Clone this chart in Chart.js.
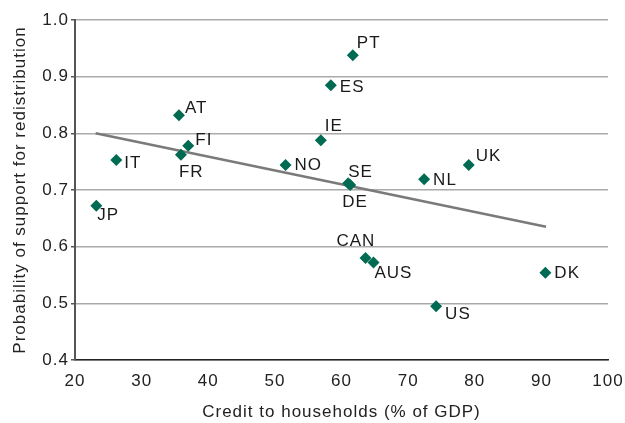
<!DOCTYPE html>
<html>
<head>
<meta charset="utf-8">
<script src="https://cdn.jsdelivr.net/npm/chart.js@4/dist/chart.umd.min.js"></script>
<style>
html,body{margin:0;padding:0;background:#fff;}
#wrap{width:625px;height:423px;position:relative;}
</style>
</head>
<body>
<div id="wrap"><canvas id="c" width="625" height="423"></canvas></div>
<script>
const countries = ["PT","ES","AT","IE","FI","FR","IT","NO","SE","DE","NL","UK","JP","CAN","AUS","DK","US"];
const credit =    [61.7, 58.4, 35.6, 56.9, 37.0, 35.9, 26.2, 51.6, 61.0, 61.3, 72.4, 79.1, 23.2, 63.6, 64.8, 90.6, 74.2];
const support =   [0.938,0.885,0.832,0.788,0.778,0.762,0.753,0.744,0.712,0.709,0.719,0.744,0.672,0.580,0.572,0.554,0.495];
const trendX = [23.1, 90.7];
const trendY = [0.800, 0.635];
const xTicks = [20,30,40,50,60,70,80,90,100];
const yTicks = [0.4,0.5,0.6,0.7,0.8,0.9,1.0];

// label offsets (px) relative to marker: [dx, dy] for text left / middle
const labelOffsets = {
  PT:[4,-12], ES:[9,2], AT:[6,-7], IE:[4,-14], FI:[7,-5], FR:[-2,17], IT:[8,3],
  NO:[9,0], SE:[0,-11], DE:[-8,17], NL:[9,1], UK:[7,-9], JP:[1,9], CAN:[-29,-17],
  AUS:[1,11], DK:[9,1], US:[9,8]
};

const FONT = "'Liberation Sans', Arial, Helvetica, sans-serif";
const FS = 17;
const LS = '1px';

const spacingPlugin = {
  id: 'spacing',
  beforeUpdate(chart) { chart.ctx.letterSpacing = LS; },
  beforeLayout(chart) { chart.ctx.letterSpacing = LS; },
  beforeDraw(chart) { chart.ctx.letterSpacing = LS; }
};

const labelPlugin = {
  id: 'pointLabels',
  afterDatasetsDraw(chart) {
    const meta = chart.getDatasetMeta(1);
    const ctx = chart.ctx;
    ctx.save();
    ctx.letterSpacing = LS;
    ctx.font = FS + "px " + FONT;
    ctx.fillStyle = "#1a1a1a";
    ctx.textAlign = "left";
    ctx.textBaseline = "middle";
    meta.data.forEach((el, i) => {
      const name = countries[i];
      const o = labelOffsets[name] || [8,0];
      ctx.fillText(name, el.x + o[0], el.y + o[1]);
    });
    ctx.restore();
  }
};

new Chart(document.getElementById('c'), {
  type: 'scatter',
  data: {
    datasets: [
      {
        type: 'line',
        data: trendX.map((x, i) => ({x: x, y: trendY[i]})),
        borderColor: '#7a7a7a',
        borderWidth: 2.5,
        pointRadius: 0,
        fill: false,
        order: 2
      },
      {
        data: credit.map((x, i) => ({x: x, y: support[i]})),
        pointStyle: 'rectRot',
        pointRadius: 6,
        pointHoverRadius: 6,
        backgroundColor: '#006b52',
        borderColor: '#006b52',
        borderWidth: 0,
        order: 1
      }
    ]
  },
  options: {
    responsive: false,
    animation: false,
    devicePixelRatio: 1,
    layout: { padding: { left: 0, right: 17, top: 20, bottom: 0 } },
    plugins: { legend: { display: false }, tooltip: { enabled: false } },
    scales: {
      x: {
        type: 'linear',
        min: 20, max: 100,
        afterBuildTicks: s => { s.ticks = xTicks.map(v => ({value: v})); },
        afterFit: s => { s.height = 63; s.paddingLeft = 0; s.paddingRight = 0; },
        grid: { display: false, drawOnChartArea: false, drawTicks: true, tickLength: 5, tickColor: '#222' },
        border: { display: true, color: '#222', width: 1.5 },
        ticks: { color: '#222', font: { family: FONT, size: FS }, padding: 6, maxRotation: 0, callback: v => v },
        title: { display: true, text: 'Credit to households (% of GDP)', color: '#222', font: { family: FONT, size: FS }, padding: { top: 5, bottom: 0 } }
      },
      y: {
        type: 'linear',
        min: 0.4, max: 1.0,
        afterBuildTicks: s => { s.ticks = yTicks.map(v => ({value: v})); },
        afterFit: s => { s.width = 75; s.paddingTop = 0; s.paddingBottom = 0; },
        grid: { display: true, color: '#aaaaaa', lineWidth: 1.5, drawTicks: true, tickLength: 4, tickColor: '#555' },
        border: { display: true, color: '#555', width: 2 },
        ticks: { color: '#222', font: { family: FONT, size: FS }, padding: 2, callback: v => v.toFixed(1) },
        title: { display: true, text: 'Probability of support for redistribution', color: '#222', font: { family: FONT, size: FS }, padding: { top: 10, bottom: 2 } }
      }
    }
  },
  plugins: [spacingPlugin, labelPlugin]
});
</script>
</body>
</html>
